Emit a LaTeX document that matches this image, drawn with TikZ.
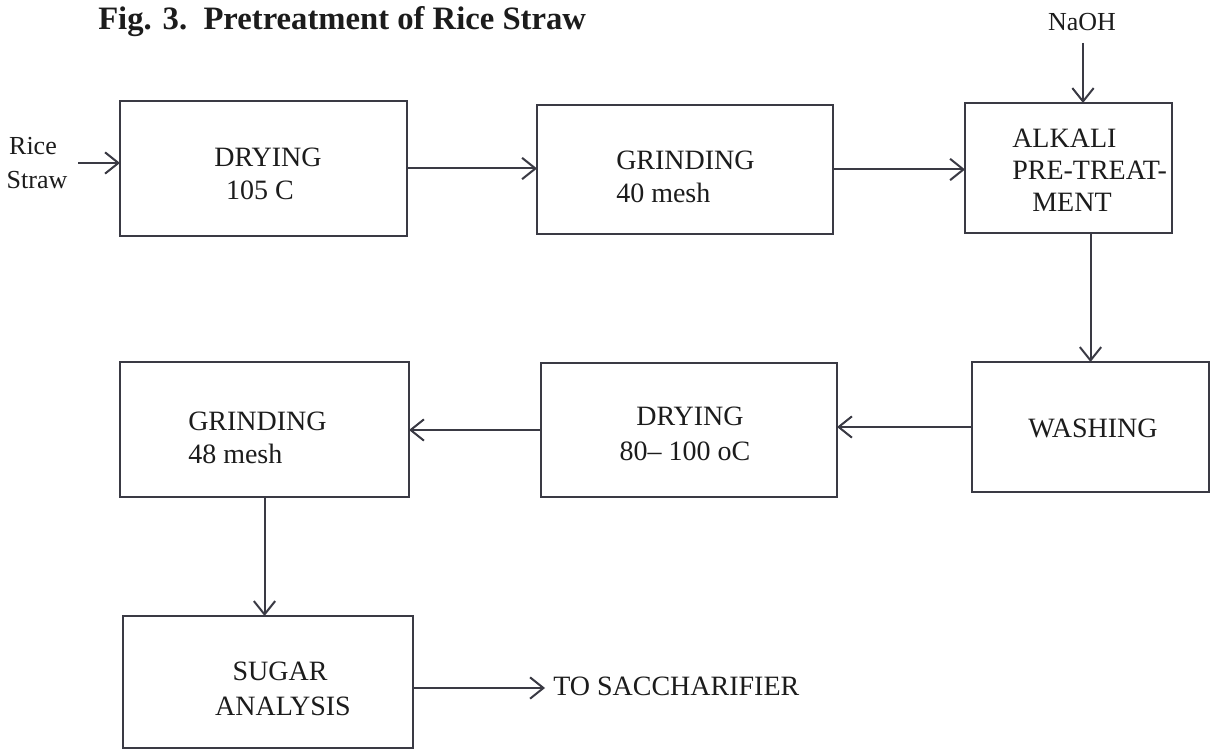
\documentclass[tikz,border=0pt]{standalone}
\usepackage{fontspec}
\setmainfont{Liberation Serif}
\usetikzlibrary{arrows.meta}
\definecolor{ink}{HTML}{3A3A44}
\definecolor{txt}{HTML}{1C1C1C}
\begin{document}
\begin{tikzpicture}[x=0.75pt,y=-0.75pt,
  box/.style={draw=ink, line width=1.5pt, rectangle, inner sep=0pt, outer sep=0pt},
  flow/.style={draw=ink, line width=1.5pt, -{Straight Barb[length=10pt,width=16pt,line width=1.5pt]}},
  lbl/.style={inner sep=0pt, text=txt, font=\fontsize{21pt}{25pt}\selectfont},
  side/.style={inner sep=0pt, text=txt, font=\fontsize{19.5pt}{23pt}\selectfont},
  ttl/.style={inner sep=0pt, text=txt, font=\fontsize{24.5pt}{29pt}\selectfont\bfseries}]
\useasboundingbox (0,0) rectangle (1212,755);
\fill[white] (0,0) rectangle (1212,755);

% title
\node[ttl, anchor=base west] (title) at (98,30) {Fig. 3.\ \ Pretreatment of Rice Straw};

% process boxes
\node[box, minimum width=215.25pt, minimum height=101.25pt] (b1) at (263.5,168.5) {};
\node[box, minimum width=222pt,    minimum height=96.75pt]  (b2) at (685,169.5) {};
\node[box, minimum width=155.25pt, minimum height=97.5pt]   (b3) at (1068.5,168) {};
\node[box, minimum width=177.75pt, minimum height=97.5pt]   (b4) at (1090.5,427) {};
\node[box, minimum width=222pt,    minimum height=100.5pt]  (b5) at (689,430) {};
\node[box, minimum width=216.75pt, minimum height=101.25pt] (b6) at (264.5,429.5) {};
\node[box, minimum width=217.5pt,  minimum height=99pt]     (b7) at (268,682) {};

% box texts
\node[lbl, anchor=base] (t1a) at (268,167) {DRYING};
\node[lbl, anchor=base] (t1b) at (260,200) {105 C};
\node[lbl, anchor=base west] (t2a) at (616,170) {GRINDING};
\node[lbl, anchor=base west] (t2b) at (616,203) {40 mesh};
\node[lbl, anchor=base west] (t3a) at (1012,148) {ALKALI};
\node[lbl, anchor=base west] (t3b) at (1012,180) {PRE-TREAT-};
\node[lbl, anchor=base west] (t3c) at (1032,212) {MENT};
\node[lbl, anchor=base] (t4a) at (1093,437) {WASHING};
\node[lbl, anchor=base] (t5a) at (690,425) {DRYING};
\node[lbl, anchor=base] (t5b) at (685,460) {80-- 100 oC};
\node[lbl, anchor=base west] (t6a) at (188,430) {GRINDING};
\node[lbl, anchor=base west] (t6b) at (188,463) {48 mesh};
\node[lbl, anchor=base] (t7a) at (280,680) {SUGAR};
\node[lbl, anchor=base] (t7b) at (283,715) {ANALYSIS};

% side labels
\node[side, anchor=base] (rice) at (33,155) {Rice};
\node[side, anchor=base] (straw) at (37,189) {Straw};
\node[side, anchor=base] (naoh) at (1082,31) {NaOH};
\node[lbl, anchor=base west] (sacch) at (553,695) {TO SACCHARIFIER};

% free ends of the feed and product arrows
\coordinate (feed) at (78,163);
\coordinate (alk) at (1083,43);
\coordinate (prod) at (545,688);

% connectors
\draw[flow] (feed) -- (feed -| b1.west);
\draw[flow] (alk) -- (alk |- b3.north);
\draw[flow] (b1.east) -- (b1.east -| b2.west);
\draw[flow] (b2.east) -- (b2.east -| b3.west);
\draw[flow] (b4.north |- b3.south) -- (b4.north);
\draw[flow] (b4.west) -- (b4.west -| b5.east);
\draw[flow] (b5.west) -- (b5.west -| b6.east);
\draw[flow] (b6.south) -- (b6.south |- b7.north);
\draw[flow] (prod -| b7.east) -- (prod);
\end{tikzpicture}
\end{document}
